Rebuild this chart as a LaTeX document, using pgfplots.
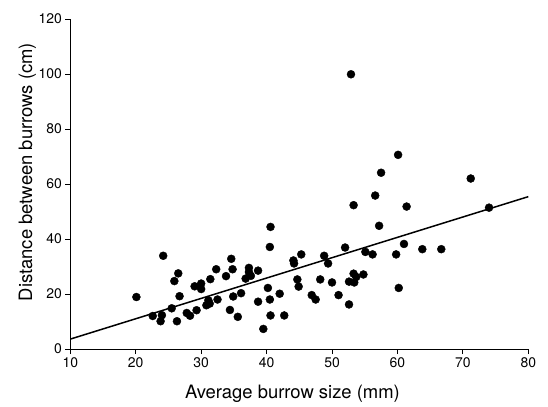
\documentclass[border=0pt]{standalone}
\usepackage{fontspec}
\setmainfont{TeX Gyre Heros}
\usepackage{pgfplots}
\pgfplotsset{compat=1.18}

\begin{document}
\begin{tikzpicture}
\begin{axis}[
    scale only axis,
    width=458bp, height=330bp,
    xmin=10, xmax=80, ymin=0, ymax=120,
    enlargelimits=false,
    axis lines=left,
    axis line style={-, line width=0.9bp},
    xtick={10,20,...,80},
    ytick={0,20,...,120},
    tick align=outside,
    major tick length=5bp,
    tick style={line width=0.8bp, black},
    /pgf/number format/assume math mode=true,
    ticklabel style={font=\fontsize{14}{16}\selectfont},
    label style={font=\fontsize{18.5}{20}\selectfont},
    xlabel={Average burrow size (mm)},
    ylabel={Distance between burrows (cm)},
    xlabel style={at={(axis description cs:0.485,-0.1)}, anchor=north},
    ylabel style={at={(axis description cs:-0.067,0.536)}, anchor=south},
    clip=false,
]
\addplot[only marks, mark=*, mark size=4bp, black] coordinates {
    (20.1,18.9) (24.2,33.9) (22.6,12.0) (24.0,12.3) (23.8,10.1) (25.5,14.8)
    (26.3,10.1) (25.9,24.7) (26.5,27.5) (26.7,19.2) (27.8,13.1) (28.3,12.1)
    (29.0,22.8) (29.3,14.1) (30.0,23.8) (30.0,21.8) (31.1,17.7) (30.8,15.9)
    (31.3,16.5) (31.4,25.4) (32.3,29.0) (32.5,18.0) (33.8,26.5) (34.4,14.2)
    (34.6,32.8) (34.8,29.0) (34.9,19.1) (35.6,11.7) (36.1,20.3) (36.8,25.6)
    (37.3,29.5) (37.3,28.0) (37.6,26.6) (38.7,28.5) (38.7,17.2) (39.5,7.3)
    (40.2,22.2) (40.5,18.0) (40.6,12.2) (40.5,37.1) (40.6,44.4) (42.0,20.1)
    (42.7,12.2) (44.1,32.2) (44.2,31.1) (44.7,25.3) (44.9,22.7) (45.3,34.4)
    (46.9,19.6) (47.5,18.0) (48.2,25.3) (48.8,33.9) (49.4,31.1) (50.0,24.2)
    (51.0,19.6) (52.0,36.9) (52.6,16.2) (52.6,24.5) (53.3,27.4) (53.4,24.2)
    (53.7,26.2) (53.3,52.3) (54.8,27.1) (55.1,35.3) (56.2,34.4) (56.6,55.8)
    (57.2,44.8) (57.5,64.1) (59.8,34.4) (60.2,22.2) (61.0,38.2) (61.4,51.8)
    (63.8,36.3) (66.7,36.3) (52.9,99.9) (60.1,70.6) (71.2,62.0) (74.0,51.4)
};
\addplot[black, line width=1.5bp] coordinates {(10,3.6) (80,55.4)};
\coordinate (o) at (rel axis cs:0,0);
\end{axis}
\useasboundingbox ([xshift=-70.3bp,yshift=-55bp]o) rectangle ([xshift=477.7bp,yshift=349bp]o);
\end{tikzpicture}
\end{document}
